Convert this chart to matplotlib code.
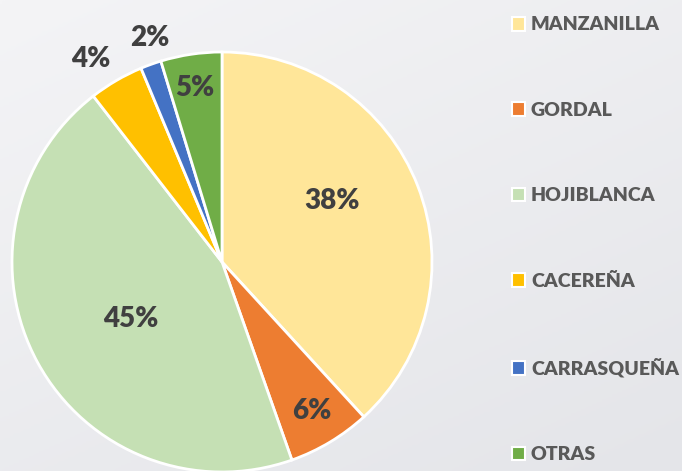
import numpy as np
import matplotlib.pyplot as plt
from matplotlib.patches import Patch

# datos
variedades = ['MANZANILLA', 'GORDAL', 'HOJIBLANCA', 'CACEREÑA', 'CARRASQUEÑA', 'OTRAS']
porcentajes = [38.2, 6.4, 44.9, 4.2, 1.6, 4.7]
colores = ['#FFE699', '#ED7D31', '#C5E0B4', '#FFC000', '#4472C4', '#70AD47']

# posicion de cada etiqueta: (angulo desde arriba en grados, radio relativo)
pos_etiquetas = [(61, 0.60), (149, 0.83), (238, 0.51), (-33, 1.15), (-18, 1.12), (-9, 0.84)]

W, H = 682, 471
fig = plt.figure(figsize=(W / 100, H / 100), dpi=100)
fuente = ['Lato', 'DejaVu Sans']

# fondo degradado gris
bg = fig.add_axes([0, 0, 1, 1], zorder=-10)
yy, xx = np.mgrid[0:1:200j, 0:1:200j]
grad = 0.6 * yy + 0.4 * xx
bg.imshow(grad, cmap=plt.matplotlib.colors.LinearSegmentedColormap.from_list(
    'g', ['#F4F4F6', '#E4E5E9']), aspect='auto', extent=[0, 1, 0, 1])
bg.axis('off')

cx, cy, r = 222, 262, 210
ax = fig.add_axes([(cx - r) / W, (H - cy - r) / H, 2 * r / W, 2 * r / H])
wedges, _ = ax.pie(porcentajes, colors=colores, startangle=90, counterclock=False,
                   radius=1, wedgeprops=dict(edgecolor='white', linewidth=2))
ax.set_xlim(-1, 1)
ax.set_ylim(-1, 1)
ax.set_aspect('equal')
ax.axis('off')

for p, (ang, rr) in zip(porcentajes, pos_etiquetas):
    a = np.deg2rad(ang)
    ax.text(rr * np.sin(a), rr * np.cos(a), '%d%%' % round(p), ha='center', va='center',
            fontsize=20, fontweight='heavy', color='#404040', family=fuente,
            clip_on=False)

handles = [Patch(facecolor=c, edgecolor='white', linewidth=1.5) for c in colores]
leg = fig.legend(handles, variedades, loc='upper left', bbox_to_anchor=(494 / W, 1 + 1 / H),
                 frameon=False, handlelength=0.7, handleheight=0.7, handletextpad=0.3,
                 labelspacing=3.52, prop=dict(family=fuente, weight='heavy', size=14))
for t in leg.get_texts():
    t.set_color('#595959')

fig.savefig('out.png', dpi=100)
